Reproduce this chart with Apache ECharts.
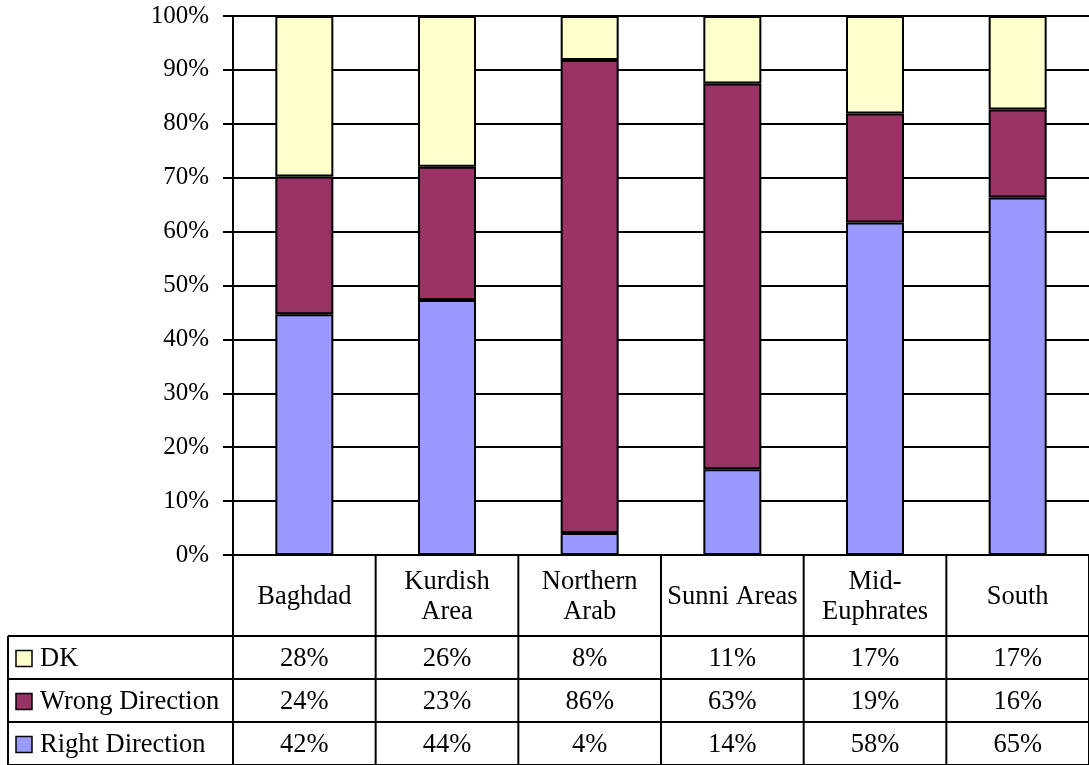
<!DOCTYPE html>
<html>
<head>
<meta charset="utf-8">
<script src="https://cdn.jsdelivr.net/npm/echarts@6/dist/echarts.min.js"></script>
<style>
  html, body { margin: 0; padding: 0; background: #fff; }
  #chart { width: 1089px; height: 765px; }
</style>
</head>
<body>
<div id="chart"></div>
<script>
// Regions along the x axis
const regions = ['Baghdad', 'Kurdish\nArea', 'Northern\nArab', 'Sunni Areas', 'Mid-\nEuphrates', 'South'];
// Survey answers per region (%), as printed in the data table
const rightDirection = [42, 44, 4, 14, 58, 65];
const wrongDirection = [24, 23, 86, 63, 19, 16];
const dontKnow = [28, 26, 8, 11, 17, 17];
const yTicks = [0, 10, 20, 30, 40, 50, 60, 70, 80, 90, 100];

const FONT = '"Liberation Serif", "Times New Roman", serif';
const FS_AXIS = 25;
const FS_TABLE = 26.5;
const COLORS = { right: '#9999FF', wrong: '#993366', dk: '#FFFFCC' };

// 100% stacking: each bar shows its share of the region's total
const totals = regions.map((_, i) => rightDirection[i] + wrongDirection[i] + dontKnow[i]);
const share = arr => arr.map((v, i) => v / totals[i] * 100);

const chart = echarts.init(document.getElementById('chart'), null, { renderer: 'canvas' });

const barStyle = color => ({ color: color, borderColor: '#000', borderWidth: 2 });

chart.setOption({
  animation: false,
  backgroundColor: '#fff',
  grid: { left: 233, top: 16, right: -7, bottom: 210, containLabel: false },
  xAxis: {
    type: 'category',
    data: regions,
    axisLine: { show: true, lineStyle: { color: '#000', width: 2 } },
    axisTick: { show: false },
    splitLine: { show: false },
    axisLabel: {
      interval: 0, margin: 42, color: '#000', fontFamily: FONT, fontSize: FS_TABLE,
      lineHeight: 30, verticalAlign: 'middle', align: 'center'
    }
  },
  yAxis: {
    type: 'value',
    min: yTicks[0], max: yTicks[yTicks.length - 1], interval: 10,
    axisLine: { show: true, lineStyle: { color: '#000', width: 2 } },
    axisTick: { show: true, inside: false, length: 10, lineStyle: { color: '#000', width: 2 } },
    splitLine: { show: true, lineStyle: { color: '#000', width: 2 } },
    axisLabel: { margin: 24, color: '#000', fontFamily: FONT, fontSize: FS_AXIS, formatter: '{value}%' }
  },
  series: [
    { name: 'Right Direction', type: 'bar', stack: 'all', barWidth: 58, data: share(rightDirection), itemStyle: barStyle(COLORS.right) },
    { name: 'Wrong Direction', type: 'bar', stack: 'all', barWidth: 58, data: share(wrongDirection), itemStyle: barStyle(COLORS.wrong) },
    { name: 'DK', type: 'bar', stack: 'all', barWidth: 58, data: share(dontKnow), itemStyle: barStyle(COLORS.dk) }
  ]
});

// Data table under the plot, aligned with the category bands
const rows = [
  { name: 'DK', values: dontKnow, color: COLORS.dk },
  { name: 'Wrong Direction', values: wrongDirection, color: COLORS.wrong },
  { name: 'Right Direction', values: rightDirection, color: COLORS.right }
];
const axisY = chart.convertToPixel({ yAxisIndex: 0 }, 0);
const headerBottom = 636;
const rowH = 43;
const tableLeft = 8;
const tableBottom = headerBottom + rowH * rows.length;
const c0 = chart.convertToPixel({ xAxisIndex: 0 }, 0);
const c1 = chart.convertToPixel({ xAxisIndex: 0 }, 1);
const band = c1 - c0;
const gridLeft = c0 - band / 2;
const gridRight = gridLeft + band * regions.length;

const lineStyle = { stroke: '#000', lineWidth: 2 };
const els = [];
const hline = (y, x1, x2) => els.push({ type: 'line', shape: { x1, y1: y, x2, y2: y }, style: lineStyle, z: 10 });
const vline = (x, y1, y2) => els.push({ type: 'line', shape: { x1: x, y1, x2: x, y2 }, style: lineStyle, z: 10 });

for (let r = 0; r <= rows.length; r++) hline(headerBottom + r * rowH, tableLeft, gridRight + 1);
vline(tableLeft, headerBottom, tableBottom);
for (let i = 0; i <= regions.length; i++) vline(gridLeft + i * band, axisY, tableBottom);

rows.forEach((row, r) => {
  const cy = headerBottom + r * rowH + rowH / 2 + 1;
  els.push({ type: 'rect', shape: { x: 16, y: cy - 8, width: 16, height: 16 },
    style: { fill: row.color, stroke: '#000', lineWidth: 1.5 }, z: 10 });
  els.push({ type: 'text', x: 40, y: cy + 1,
    style: { text: row.name, font: FS_TABLE + 'px ' + FONT, fill: '#000', align: 'left', verticalAlign: 'middle' }, z: 10 });
  row.values.forEach((v, i) => {
    const cx = chart.convertToPixel({ xAxisIndex: 0 }, i);
    els.push({ type: 'text', x: cx, y: cy + 1,
      style: { text: v + '%', font: FS_TABLE + 'px ' + FONT, fill: '#000', align: 'center', verticalAlign: 'middle' }, z: 10 });
  });
});

chart.setOption({ graphic: { elements: els } });
</script>
</body>
</html>
